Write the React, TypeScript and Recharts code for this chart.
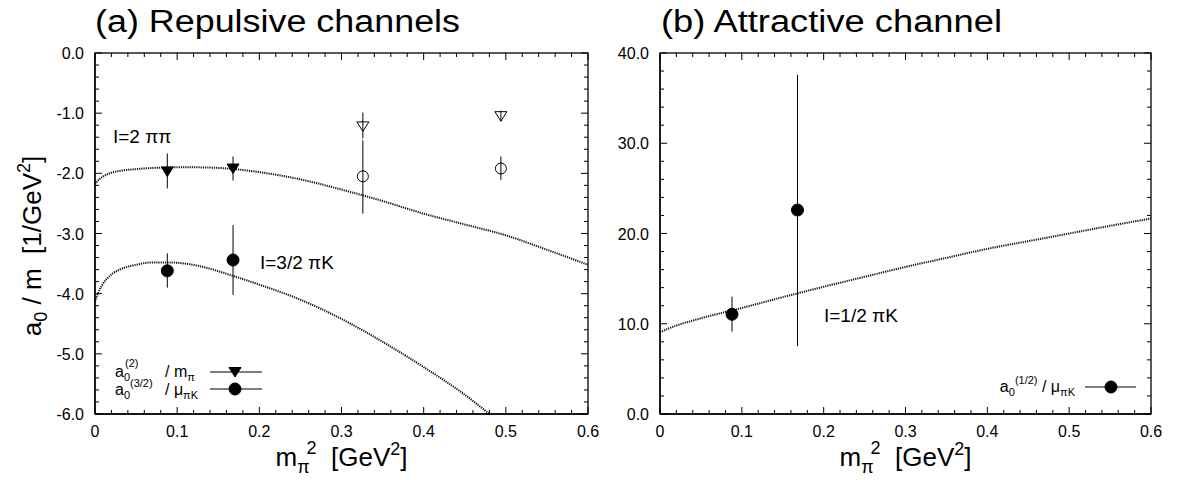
import React from 'react';
import { ComposedChart, Line, Scatter, ErrorBar, XAxis, YAxis } from 'recharts';

// m_pi^2 [GeV^2] of the simulation points
const lightX = [0.088, 0.168];
const heavyX = [0.326, 0.494];

// (a) I=2 pi-pi : a0 / m_pi
const pipiFilledY = [-1.97, -1.92];
const pipiFilledErr = [[0.28, 0.3], [0.2, 0.2]];
const pipiOpenY = [-1.22, -1.05];
const pipiOpenErr = [[0.2, 0.23], [0.09, 0.09]];

// (a) I=3/2 pi-K : a0 / mu_piK
const pik32FilledY = [-3.62, -3.44];
const pik32FilledErr = [[0.28, 0.29], [0.58, 0.58]];
const pik32OpenY = [-2.05, -1.92];
const pik32OpenErr = [[0.62, 0.6], [0.19, 0.2]];

// (b) I=1/2 pi-K
const pik12Y = [11.05, 22.6];
const pik12Err = [[1.92, 1.95], [15.1, 15.0]];

// ChPT curves (dotted)
const upperCurveX = [0, 0.005, 0.01, 0.02, 0.03, 0.05, 0.08, 0.1, 0.12, 0.15, 0.2, 0.25, 0.3, 0.35, 0.4, 0.45, 0.5, 0.55, 0.6];
const upperCurveY = [-2.18, -2.1, -2.05, -1.99, -1.96, -1.93, -1.905, -1.9, -1.9, -1.91, -1.98, -2.1, -2.27, -2.46, -2.67, -2.85, -3.03, -3.27, -3.52];
const lowerCurveX = [0, 0.005, 0.01, 0.02, 0.03, 0.05, 0.07, 0.09, 0.11, 0.13, 0.167, 0.2, 0.25, 0.3, 0.35, 0.4, 0.45, 0.48];
const lowerCurveY = [-4.13, -3.95, -3.83, -3.68, -3.6, -3.52, -3.48, -3.48, -3.5, -3.55, -3.7, -3.85, -4.1, -4.42, -4.8, -5.22, -5.68, -6.0];
const attrCurveX = [0, 0.01, 0.02, 0.04, 0.06, 0.08, 0.1, 0.15, 0.2, 0.25, 0.3, 0.35, 0.4, 0.45, 0.5, 0.55, 0.6];
const attrCurveY = [9.06, 9.45, 9.8, 10.35, 10.85, 11.3, 11.75, 12.95, 14.1, 15.2, 16.3, 17.3, 18.3, 19.15, 20.0, 20.85, 21.66];

// tick labels
const xMajor = [0, 0.1, 0.2, 0.3, 0.4, 0.5, 0.6];
const yMajorA = [-6, -5, -4, -3, -2, -1, 0];
const yMajorB = [0, 10, 20, 30, 40];

const subdivide = (major: number[], n: number) => {
  const out: number[] = [];
  for (let i = 0; i < major.length - 1; i++) {
    const step = (major[i + 1] - major[i]) / n;
    for (let k = 0; k < n; k++) out.push(Math.round((major[i] + k * step) * 1000) / 1000);
  }
  out.push(major[major.length - 1]);
  return out;
};

const xTicks = subdivide(xMajor, 5);
const yTicksA = subdivide(yMajorA, 5);
const yTicksB = subdivide(yMajorB, 5);

const pts = (xs: number[], ys: number[], errs: number[][]) =>
  xs.map((x, i) => ({ x, y: ys[i], err: errs[i] }));
const curve = (xs: number[], ys: number[]) => xs.map((x, i) => ({ x, y: ys[i] }));

const FONT = '"Liberation Sans", Arial, Helvetica, sans-serif';
const GAP = 8;
const MAJ = 7;
const MIN = 4;

// plot boxes (page pixels) shared by the charts and the frame overlay
const boxA = { left: 95, right: 588, top: 53, bottom: 414, y0: -6, y1: 0, yTicks: yTicksA, yMajor: yMajorA };
const boxB = { left: 660, right: 1151, top: 53, bottom: 414, y0: 0, y1: 40, yTicks: yTicksB, yMajor: yMajorB };

const isMajor = (v: number, major: number[]) => major.some((m) => Math.abs(m - v) < 1e-6);

const XLabel = (props: any) => {
  const { x, y, payload } = props;
  if (!isMajor(payload.value, xMajor)) return <g />;
  return (
    <text x={x} y={y - GAP + 23} textAnchor="middle" fontSize={16} fontFamily={FONT} fill="#000">
      {payload.value === 0 ? '0' : payload.value.toFixed(1)}
    </text>
  );
};

const YLabel = (props: any) => {
  const { x, y, payload, major } = props;
  if (!isMajor(payload.value, major)) return <g />;
  return (
    <text x={x + GAP - 11} y={y + 6} textAnchor="end" fontSize={16} fontFamily={FONT} fill="#000">
      {payload.value.toFixed(1)}
    </text>
  );
};

// box with inward major/minor ticks on all four sides
const Frame = ({ b }: any) => {
  const px = (v: number) => b.left + (v / 0.6) * (b.right - b.left);
  const py = (v: number) => b.bottom - ((v - b.y0) / (b.y1 - b.y0)) * (b.bottom - b.top);
  const segs: string[] = [];
  xTicks.forEach((v) => {
    const l = isMajor(v, xMajor) ? MAJ : MIN;
    const x = px(v);
    segs.push(`M${x},${b.bottom}v${-l}`, `M${x},${b.top}v${l}`);
  });
  b.yTicks.forEach((v: number) => {
    const l = isMajor(v, b.yMajor) ? MAJ : MIN;
    const y = py(v);
    segs.push(`M${b.left},${y}h${l}`, `M${b.right},${y}h${-l}`);
  });
  return (
    <g>
      <path d={segs.join('')} stroke="#000" strokeWidth={1} fill="none" />
      <rect x={b.left} y={b.top} width={b.right - b.left} height={b.bottom - b.top} fill="none" stroke="#000" strokeWidth={1.3} />
    </g>
  );
};

const DownTri = ({ cx, cy, filled }: any) => (
  <path
    d={`M${cx - 6},${cy - 4.5} L${cx + 6},${cy - 4.5} L${cx},${cy + 5} Z`}
    fill={filled ? '#000' : 'none'}
    stroke="#000"
    strokeWidth={1}
  />
);

const Dot = ({ cx, cy, filled }: any) => (
  <circle cx={cx} cy={cy} r={filled ? 6 : 5.5} fill={filled ? '#000' : 'none'} stroke="#000" strokeWidth={1} />
);

const dotted = { stroke: '#111', strokeWidth: 2, strokeDasharray: '1.2 1' };
const NB = '\u00a0';

export default function App() {
  const axisLine = { stroke: '#000', strokeWidth: 1.3 };
  const common = { tickSize: GAP, tickMargin: 0, tickLine: false, axisLine, interval: 0 as const };

  return (
    <div style={{ position: 'absolute', left: 0, top: 0, width: 1178, height: 480, background: '#fff' }}>
      {/* (a) repulsive */}
      <div style={{ position: 'absolute', left: 0, top: 0 }}>
        <ComposedChart width={612} height={480} margin={{ top: 53, right: 24, bottom: 0, left: 15 }}>
          <XAxis dataKey="x" type="number" domain={[0, 0.6]} ticks={xTicks} height={66} tick={<XLabel />} {...common} />
          <YAxis type="number" domain={[-6, 0]} ticks={yTicksA} width={80} tick={<YLabel major={yMajorA} />} {...common} />
          <Line data={curve(upperCurveX, upperCurveY)} dataKey="y" type="monotone" dot={false} {...dotted} isAnimationActive={false} />
          <Line data={curve(lowerCurveX, lowerCurveY)} dataKey="y" type="monotone" dot={false} {...dotted} isAnimationActive={false} />
          <Scatter data={pts(lightX, pipiFilledY, pipiFilledErr)} dataKey="y" shape={(p: any) => <DownTri cx={p.cx} cy={p.cy} filled />} isAnimationActive={false}>
            <ErrorBar dataKey="err" direction="y" width={0} stroke="#000" strokeWidth={1} />
          </Scatter>
          <Scatter data={pts(heavyX, pipiOpenY, pipiOpenErr)} dataKey="y" shape={(p: any) => <DownTri cx={p.cx} cy={p.cy} />} isAnimationActive={false}>
            <ErrorBar dataKey="err" direction="y" width={0} stroke="#000" strokeWidth={1} />
          </Scatter>
          <Scatter data={pts(lightX, pik32FilledY, pik32FilledErr)} dataKey="y" shape={(p: any) => <Dot cx={p.cx} cy={p.cy} filled />} isAnimationActive={false}>
            <ErrorBar dataKey="err" direction="y" width={0} stroke="#000" strokeWidth={1} />
          </Scatter>
          <Scatter data={pts(heavyX, pik32OpenY, pik32OpenErr)} dataKey="y" shape={(p: any) => <Dot cx={p.cx} cy={p.cy} />} isAnimationActive={false}>
            <ErrorBar dataKey="err" direction="y" width={0} stroke="#000" strokeWidth={1} />
          </Scatter>
        </ComposedChart>
      </div>

      {/* (b) attractive */}
      <div style={{ position: 'absolute', left: 590, top: 0 }}>
        <ComposedChart width={588} height={480} margin={{ top: 53, right: 27, bottom: 0, left: 10 }}>
          <XAxis dataKey="x" type="number" domain={[0, 0.6]} ticks={xTicks} height={66} tick={<XLabel />} {...common} />
          <YAxis type="number" domain={[0, 40]} ticks={yTicksB} width={60} tick={<YLabel major={yMajorB} />} {...common} />
          <Line data={curve(attrCurveX, attrCurveY)} dataKey="y" type="monotone" dot={false} {...dotted} isAnimationActive={false} />
          <Scatter data={pts(lightX, pik12Y, pik12Err)} dataKey="y" shape={(p: any) => <Dot cx={p.cx} cy={p.cy} filled />} isAnimationActive={false}>
            <ErrorBar dataKey="err" direction="y" width={0} stroke="#000" strokeWidth={1} />
          </Scatter>
        </ComposedChart>
      </div>

      {/* frames, titles, axis titles, annotations, legends */}
      <svg
        width={1178}
        height={480}
        style={{ position: 'absolute', left: 0, top: 0, pointerEvents: 'none' }}
        fontFamily={FONT}
        fill="#000"
      >
        <Frame b={boxA} />
        <Frame b={boxB} />

        <text x={95} y={32} fontSize={31} textLength={365} lengthAdjust="spacingAndGlyphs">(a) Repulsive channels</text>
        <text x={661} y={32} fontSize={31} textLength={341} lengthAdjust="spacingAndGlyphs">(b) Attractive channel</text>

        {[341.5, 905.5].map((cx) => (
          <text key={cx} x={cx} y={466} fontSize={26} textAnchor="middle">
            m<tspan fontSize={18} dy={7}>π</tspan>
            <tspan fontSize={18} dx={-3} dy={-19}>2</tspan>
            <tspan dy={12}>{`${NB}${NB}[GeV`}</tspan>
            <tspan fontSize={18} dy={-11}>2</tspan>
            <tspan dy={11}>]</tspan>
          </text>
        ))}

        <text transform="translate(41,246) rotate(-90)" fontSize={26} textAnchor="middle">
          a<tspan fontSize={18} dy={6}>0</tspan>
          <tspan dy={-6}>{`${NB}/${NB}m${NB}${NB}[1/GeV`}</tspan>
          <tspan fontSize={18} dy={-11}>2</tspan>
          <tspan dy={11}>]</tspan>
        </text>

        <text x={113} y={143} fontSize={19}>I=2 ππ</text>
        <text x={260} y={269} fontSize={19}>I=3/2 πK</text>
        <text x={824} y={322} fontSize={19}>I=1/2 πK</text>

        {/* legend (a) */}
        <text x={115} y={377} fontSize={16}>
          a<tspan fontSize={11} dy={4}>0</tspan>
          <tspan fontSize={11} dy={-14} dx={-5}>(2)</tspan>
        </text>
        <text x={165} y={377} fontSize={16}>
          {`/${NB}m`}<tspan fontSize={11} dy={4}>π</tspan>
        </text>
        <text x={115} y={395} fontSize={16}>
          a<tspan fontSize={11} dy={4}>0</tspan>
          <tspan fontSize={11} dy={-12}>(3/2)</tspan>
        </text>
        <text x={165} y={395} fontSize={16}>
          {`/${NB}μ`}<tspan fontSize={11} dy={4}>πK</tspan>
        </text>
        <line x1={210} x2={262} y1={372} y2={372} stroke="#555" strokeWidth={1.5} />
        <DownTri cx={235} cy={372} filled />
        <line x1={210} x2={262} y1={389} y2={389} stroke="#555" strokeWidth={1.5} />
        <Dot cx={235} cy={389} filled />

        {/* legend (b) */}
        <text x={1075} y={392} fontSize={16} textAnchor="end">
          a<tspan fontSize={11} dy={4}>0</tspan>
          <tspan fontSize={11} dy={-12}>(1/2)</tspan>
          <tspan dy={8}>{`${NB}/${NB}μ`}</tspan>
          <tspan fontSize={11} dy={4}>πK</tspan>
        </text>
        <line x1={1085} x2={1136} y1={387} y2={387} stroke="#555" strokeWidth={1.5} />
        <Dot cx={1111} cy={387} filled />
      </svg>
    </div>
  );
}
